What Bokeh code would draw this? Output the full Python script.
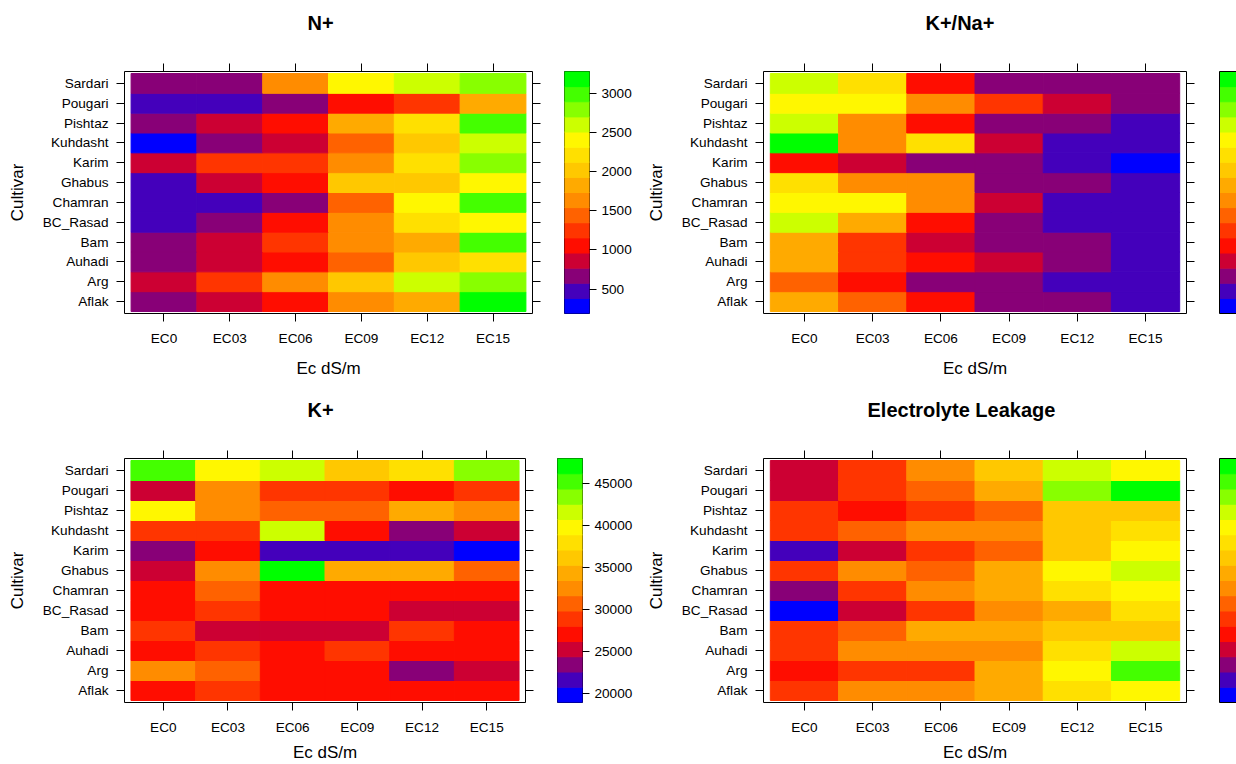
import numpy as np
from bokeh.plotting import figure
from bokeh.models import (FactorRange, Range1d, LinearColorMapper, CategoricalAxis,
                          LinearAxis, FixedTicker, ColumnDataSource, Title)
from bokeh.transform import transform
from bokeh.layouts import row, column
from bokeh.embed import file_html
from bokeh.resources import INLINE

# ---------------- data ----------------
cultivars = ["Aflak", "Arg", "Auhadi", "Bam", "BC_Rasad", "Chamran", "Ghabus",
             "Karim", "Kuhdasht", "Pishtaz", "Pougari", "Sardari"]
ec_levels = ["EC0", "EC03", "EC06", "EC09", "EC12", "EC15"]

# rows follow `cultivars`, columns follow `ec_levels`
n_plus = [
    [690, 870, 1060, 1640, 1830, 3277],
    [850, 1260, 1630, 2010, 2600, 2790],
    [680, 880, 1050, 1440, 2030, 2210],
    [660, 860, 1240, 1650, 1820, 2980],
    [470, 670, 1070, 1620, 2220, 2400],
    [460, 490, 690, 1450, 2410, 2990],
    [480, 860, 1060, 2020, 2040, 2420],
    [870, 1250, 1270, 1640, 2230, 2800],
    [188, 680, 860, 1430, 2020, 2590],
    [670, 850, 1050, 1830, 2210, 2980],
    [470, 480, 680, 1060, 1250, 1840],
    [680, 690, 1630, 2400, 2610, 2790],
]

k_na_ratio = [
    [2.02, 1.58, 1.21, 0.82, 0.79, 0.61],
    [1.62, 1.19, 0.81, 0.78, 0.60, 0.58],
    [1.98, 1.41, 1.22, 1.01, 0.79, 0.62],
    [2.01, 1.39, 0.99, 0.80, 0.77, 0.59],
    [2.79, 2.03, 1.18, 0.81, 0.61, 0.57],
    [2.61, 2.58, 1.79, 1.02, 0.62, 0.60],
    [2.42, 1.81, 1.78, 0.80, 0.82, 0.59],
    [1.21, 0.98, 0.79, 0.81, 0.58, 0.30],
    [3.50, 1.82, 2.39, 0.99, 0.61, 0.60],
    [2.82, 1.79, 1.19, 0.78, 0.80, 0.62],
    [2.59, 2.62, 1.80, 1.42, 1.01, 0.79],
    [2.78, 2.41, 1.22, 0.81, 0.79, 0.82],
]

k_plus = [
    [27100, 28900, 27000, 26900, 27200, 27050],
    [32500, 30700, 27100, 27000, 23400, 25200],
    [27000, 28800, 27100, 28900, 27000, 26900],
    [28900, 25300, 25200, 25100, 28800, 27100],
    [27000, 28900, 27100, 27000, 25300, 25200],
    [27100, 30600, 27000, 26900, 27000, 27100],
    [25200, 32500, 47990, 34300, 34400, 30700],
    [23400, 27000, 21600, 21500, 21700, 18876],
    [28900, 28800, 41600, 27000, 23500, 25300],
    [39800, 32500, 30700, 30800, 34300, 32600],
    [25200, 32400, 28900, 28800, 27100, 28900],
    [45300, 39800, 41600, 36200, 38000, 43400],
]

electrolyte_leakage = [
    [37, 45, 46, 49, 57, 61],
    [33, 37, 38, 49, 61, 73],
    [37, 44, 45, 46, 57, 65],
    [36, 41, 49, 50, 53, 54],
    [15, 29, 37, 45, 49, 57],
    [25, 37, 45, 49, 57, 61],
    [37, 45, 41, 49, 61, 65],
    [21, 29, 37, 41, 53, 61],
    [37, 41, 45, 46, 53, 57],
    [37, 33, 38, 41, 53, 54],
    [29, 37, 41, 49, 69, 79],
    [29, 37, 45, 53, 65, 61],
]

n_plus_ticks = [500, 1000, 1500, 2000, 2500, 3000]
k_plus_ticks = [20000, 25000, 30000, 35000, 40000, 45000]

palette = ["#0000FF", "#4400BB", "#880077", "#CC0033", "#FF0D00", "#FF3500",
           "#FF6200", "#FF8C00", "#FFAA00", "#FFC800", "#FFE000", "#FFF700",
           "#CCFF00", "#88FF00", "#44FF00", "#00FF00"]

FONT = "Liberation Sans"
TICK_FS = "13.6px"
LAB_FS = "17px"
TITLE_FS = "20px"


def style_axis(ax, tick_out=8):
    ax.major_tick_out = tick_out
    ax.major_tick_in = 0
    ax.minor_tick_out = 0
    ax.minor_tick_in = 0
    ax.axis_line_color = None
    ax.major_tick_line_color = "black"
    ax.major_label_text_font = FONT
    ax.major_label_text_font_size = TICK_FS
    ax.major_label_text_color = "black"
    ax.axis_label_text_font = FONT
    ax.axis_label_text_font_size = LAB_FS
    ax.axis_label_text_font_style = "normal"
    ax.axis_label_text_color = "black"


def hide_labels(ax):
    ax.major_label_text_color = None
    ax.major_label_text_font_size = "0px"
    ax.major_label_standoff = 0


def heat_panel(values, title, frame_w, frame_h, left, right, top, bottom,
               title_offset, xlab_standoff):
    vals = np.array(values, dtype=float)
    xr = FactorRange(factors=ec_levels, range_padding=0.1, range_padding_units="absolute")
    yr = FactorRange(factors=cultivars, range_padding=0.1, range_padding_units="absolute")
    p = figure(width=left + frame_w + right, height=top + frame_h + bottom,
               x_range=xr, y_range=yr, output_backend="svg", toolbar_location=None,
               tools="", title=None,
               min_border_left=left, min_border_right=right,
               min_border_top=top, min_border_bottom=bottom)
    src = ColumnDataSource(dict(
        ec=[e for c in cultivars for e in ec_levels],
        cv=[c for c in cultivars for e in ec_levels],
        val=vals.ravel(),
    ))
    mapper = LinearColorMapper(palette=palette, low=vals.min(), high=vals.max())
    p.rect(x="ec", y="cv", width=1, height=1, source=src,
           fill_color=transform("val", mapper), line_color=transform("val", mapper),
           line_width=1)
    p.xgrid.grid_line_color = None
    p.ygrid.grid_line_color = None
    p.outline_line_color = "black"
    p.outline_line_width = 1

    style_axis(p.xaxis[0])
    style_axis(p.yaxis[0])
    p.xaxis[0].axis_label = "Ec dS/m"
    p.yaxis[0].axis_label = "Cultivar"
    p.xaxis[0].major_label_standoff = 9
    p.xaxis[0].axis_label_standoff = xlab_standoff
    p.yaxis[0].major_label_standoff = 8
    p.yaxis[0].axis_label_standoff = 13

    # tick marks only on top and right (lattice style)
    for side in ("above", "right"):
        ax = CategoricalAxis()
        style_axis(ax)
        hide_labels(ax)
        p.add_layout(ax, side)

    # blank gap between the top ticks and the panel title
    p.add_layout(Title(text=" ", text_font_size="1px", text_color="white", standoff=22), "above")
    p.add_layout(Title(text=title, align="left", offset=title_offset, text_font=FONT,
                       text_font_size=TITLE_FS, text_font_style="bold",
                       text_color="black", vertical_align="bottom", standoff=10), "above")
    return p


def color_bar(values, ticks, frame_w, frame_h, left, right, top, bottom, x_end):
    vals = np.array(values, dtype=float)
    vmin, vmax = vals.min(), vals.max()
    edges = np.linspace(vmin, vmax, len(palette) + 1)
    c = figure(width=left + frame_w + right, height=top + frame_h + bottom,
               x_range=Range1d(0, x_end), y_range=Range1d(vmin, vmax),
               output_backend="svg", toolbar_location=None, tools="", title=None,
               x_axis_location=None, y_axis_location=None,
               min_border_left=left, min_border_right=right,
               min_border_top=top, min_border_bottom=bottom)
    c.quad(left=0, right=1, bottom=edges[:-1], top=edges[1:],
           fill_color=palette, line_color=palette, line_width=1)
    c.grid.grid_line_color = None
    if ticks:
        c.outline_line_color = "black"
        c.outline_line_width = 1
        ax = LinearAxis(ticker=FixedTicker(ticks=ticks, minor_ticks=[]))
        style_axis(ax, tick_out=7)
        ax.major_label_standoff = 5
        c.add_layout(ax, "right")
    else:
        # bar runs past the picture's right edge: border only on the visible sides
        c.outline_line_color = None
        for side in ("left", "above", "below"):
            ax = LinearAxis(ticker=FixedTicker(ticks=[], minor_ticks=[]))
            style_axis(ax, tick_out=0)
            hide_labels(ax)
            ax.axis_line_color = "black"
            ax.axis_line_width = 1
            c.add_layout(ax, side)
    return c


# top row (0-387): frame 71..313
tl = heat_panel(n_plus, "N+", 408, 242, 124, 16, 71, 74, 183, 10)
tl_cb = color_bar(n_plus, n_plus_ticks, 25, 242, 16, 51, 71, 74, 1.0)
tr = heat_panel(k_na_ratio, "K+/Na+", 423, 242, 123, 16, 71, 74, 162, 10)
tr_cb = color_bar(k_na_ratio, None, 17, 242, 17, 0, 71, 74, 0.68)

# bottom row (387-764): frame 458..702
bl = heat_panel(k_plus, "K+", 401, 244, 124, 16, 71, 62, 183, 5)
bl_cb = color_bar(k_plus, k_plus_ticks, 25, 244, 16, 58, 71, 62, 1.0)
br = heat_panel(electrolyte_leakage, "Electrolyte Leakage", 423, 244, 123, 16, 71, 62, 104, 5)
br_cb = color_bar(electrolyte_leakage, None, 17, 244, 17, 0, 71, 62, 0.68)

layout = column(row(tl, tl_cb, tr, tr_cb), row(bl, bl_cb, br, br_cb))

open("out.html", "w").write(file_html(layout, INLINE))
